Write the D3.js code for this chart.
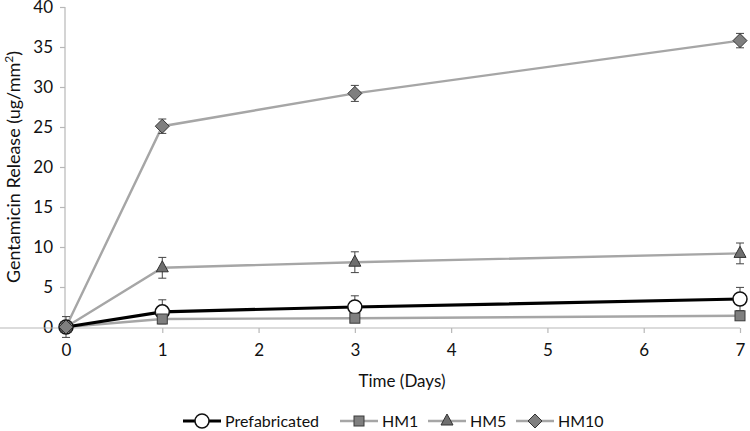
<!DOCTYPE html>
<html><head><meta charset="utf-8">
<script src="https://cdn.jsdelivr.net/npm/d3@7"></script>
<style>body{margin:0;background:#fff}svg{display:block;font-family:Lato,"Open Sans",sans-serif}</style>
</head><body>
<svg id="c" width="750" height="431"></svg>
<script>
const days = [0, 1, 3, 7];
const xTicks = [0, 1, 2, 3, 4, 5, 6, 7];
const yTicks = [0, 5, 10, 15, 20, 25, 30, 35, 40];
const seriesNames = ["Prefabricated", "HM1", "HM5", "HM10"];
const prefab = [0, 1.9, 2.5, 3.5];
const prefabErr = [1.3, 1.5, 1.4, 1.45];
const hm1 = [0, 1.0, 1.1, 1.4];
const hm1Err = [0, 0.2, 0.2, 0.2];
const hm5 = [0, 7.4, 8.1, 9.2];
const hm5Err = [0, 1.3, 1.3, 1.3];
const hm10 = [0, 25.1, 29.2, 35.8];
const hm10Err = [0, 0.9, 1.0, 0.9];

const svg = d3.select("#c");
const x = d3.scaleLinear().domain([0, 7]).range([66, 740]);
const y = d3.scaleLinear().domain([0, 40]).range([327, 7]);

// axes
const yAx = svg.append("g").attr("transform", "translate(65,0)")
  .call(d3.axisLeft(y).tickValues(yTicks).tickFormat(d3.format("d")).tickSize(5).tickPadding(7));
const xAx = svg.append("g").attr("transform", "translate(0,328)")
  .call(d3.axisBottom(x).tickValues(xTicks).tickFormat(d3.format("d")).tickSize(5).tickPadding(11));
[yAx, xAx].forEach(a => {
  a.select(".domain").attr("stroke", "#b8b8b8").attr("stroke-width", 1.2);
  a.selectAll(".tick line").attr("stroke", "#b8b8b8").attr("stroke-width", 1.2);
  a.selectAll(".tick text").attr("fill", "#111").style("font-size", "17px").style("font-family", "Lato,sans-serif");
});
yAx.select(".domain").attr("d", "M0,7V328");
xAx.select(".domain").attr("d", "M-1,0H740");

svg.append("text").attr("x", 402).attr("y", 387).attr("text-anchor", "middle")
  .style("font-size", "17px").attr("fill", "#111").text("Time (Days)");
const yt = svg.append("text").attr("transform", "translate(20,167) rotate(-90)").attr("text-anchor", "middle")
  .style("font-size", "18px").attr("fill", "#111");
yt.append("tspan").text("Gentamicin Release (ug/mm");
yt.append("tspan").attr("dy", -7).style("font-size", "12px").text("2");
yt.append("tspan").attr("dy", 7).text(")");

const series = [
  {name: seriesNames[0], v: prefab, e: prefabErr, color: "#000", w: 3.2, sym: "circle"},
  {name: seriesNames[1], v: hm1, e: hm1Err, color: "#a6a6a6", w: 2.4, sym: "square"},
  {name: seriesNames[2], v: hm5, e: hm5Err, color: "#a6a6a6", w: 2.4, sym: "triangle"},
  {name: seriesNames[3], v: hm10, e: hm10Err, color: "#a6a6a6", w: 2.4, sym: "diamond"}
];
const line = d3.line().x((d, i) => x(days[i])).y(d => y(d));
[1, 2, 3, 0].forEach(k => {
  const s = series[k];
  svg.append("path").attr("d", line(s.v)).attr("fill", "none").attr("stroke", s.color).attr("stroke-width", s.w);
});
function marker(g, sym, cx, cy) {
  if (sym === "circle") g.append("circle").attr("cx", cx).attr("cy", cy).attr("r", 7).attr("fill", "#fff").attr("stroke", "#111").attr("stroke-width", 1.5);
  else if (sym === "square") g.append("rect").attr("x", cx - 5).attr("y", cy - 5).attr("width", 10).attr("height", 10).attr("fill", "#7f7f7f").attr("stroke", "#3a3a3a").attr("stroke-width", 1);
  else if (sym === "triangle") g.append("path").attr("d", `M${cx},${cy-7}L${cx+6},${cy+4}L${cx-6},${cy+4}Z`).attr("fill", "#6f6f6f").attr("stroke", "#333").attr("stroke-width", 1);
  else g.append("path").attr("d", `M${cx},${cy-7}L${cx+7},${cy}L${cx},${cy+7}L${cx-7},${cy}Z`).attr("fill", "#7f7f7f").attr("stroke", "#333").attr("stroke-width", 1);
}
series.forEach(s => {
  const g = svg.append("g");
  s.v.forEach((v, i) => {
    const e = s.e[i];
    if (e > 0) {
      const cx = x(days[i]);
      g.append("path").attr("d", `M${cx},${y(v - e)}V${y(v + e)}M${cx-4},${y(v + e)}H${cx+4}M${cx-4},${y(v - e)}H${cx+4}`)
        .attr("stroke", "#444").attr("stroke-width", 1).attr("fill", "none");
    }
  });
  s.v.forEach((v, i) => marker(g, s.sym, x(days[i]), y(v)));
});

// legend
const legX = [183, 340, 428, 516];
const leg = svg.append("g");
series.forEach((s, k) => {
  const lx = legX[k], ly = 421;
  leg.append("line").attr("x1", lx).attr("x2", lx + 38).attr("y1", ly).attr("y2", ly).attr("stroke", s.color).attr("stroke-width", s.w);
  marker(leg, s.sym, lx + 19, ly);
  leg.append("text").attr("x", lx + 42).attr("y", ly + 6).style("font-size", "16px").attr("fill", "#111").text(s.name);
});
</script>
</body></html>
